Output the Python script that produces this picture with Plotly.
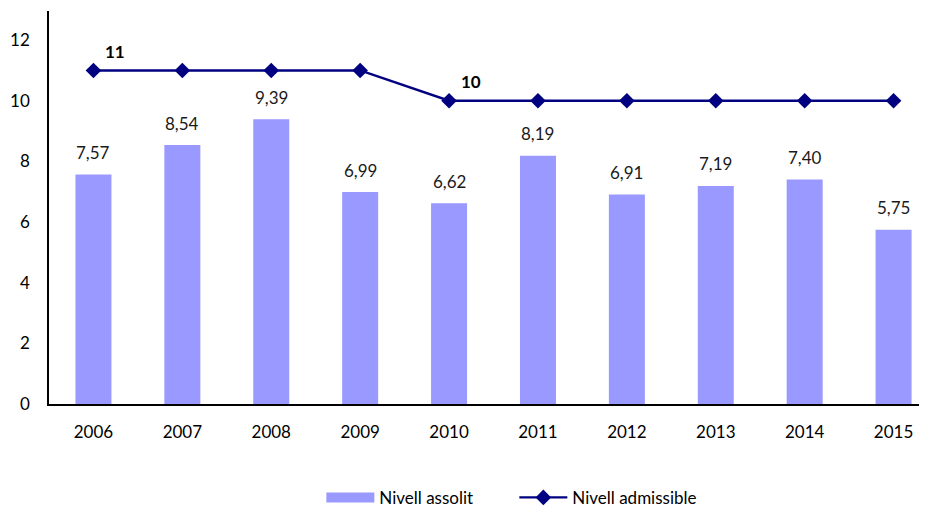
import plotly.graph_objects as go

years = ["2006", "2007", "2008", "2009", "2010", "2011", "2012", "2013", "2014", "2015"]
assolit = [7.57, 8.54, 9.39, 6.99, 6.62, 8.19, 6.91, 7.19, 7.40, 5.75]
admissible = [11, 11, 11, 11, 10, 10, 10, 10, 10, 10]
labelled_points = [0, 4]

FONT = "Lato"
BAR_COLOR = "#9999FF"
LINE_COLOR = "#000080"
bar_text = [f"{v:.2f}".replace(".", ",") for v in assolit]

fig = go.Figure()
fig.add_trace(go.Bar(
    x=years, y=assolit, name="Nivell assolit", showlegend=False,
    marker=dict(color=BAR_COLOR, line=dict(width=0)),
    width=0.405,
))
# legend-only entry giving a wide rectangular swatch for the bars
fig.add_trace(go.Scatter(
    x=[None], y=[None], name="Nivell assolit", mode="lines",
    line=dict(color=BAR_COLOR, width=10),
))
fig.add_trace(go.Scatter(
    x=years, y=admissible, name="Nivell admissible",
    mode="lines+markers",
    line=dict(color=LINE_COLOR, width=2.4),
    marker=dict(symbol="diamond", size=12, color=LINE_COLOR),
))

for i, (v, t) in enumerate(zip(assolit, bar_text)):
    fig.add_annotation(
        x=i, y=v, xref="x", yref="y", text=t, showarrow=False,
        yshift=22, font=dict(family=FONT, size=17, color="#1a1a1a"),
    )

for i in labelled_points:
    fig.add_annotation(
        x=i, y=admissible[i], xref="x", yref="y",
        text=f"<b>{admissible[i]}</b>",
        showarrow=False, xshift=22, yshift=19,
        font=dict(family=FONT, size=17, color="#000000"),
    )

fig.update_layout(
    width=919, height=499,
    margin=dict(l=41, r=0, t=3, b=103, autoexpand=False),
    plot_bgcolor="white", paper_bgcolor="white",
    font=dict(family=FONT, size=17, color="#000000"),
    showlegend=True,
    legend=dict(orientation="h", x=0.53, xanchor="center", y=-0.193, yanchor="top",
                font=dict(family=FONT, size=17, color="#000000"),
                itemwidth=48, tracegroupgap=0,
                entrywidth=130, entrywidthmode="pixels"),
)
fig.update_xaxes(
    type="category",
    range=[-0.5, 9.376], showline=True, linecolor="#000000", linewidth=1.5,
    ticks="", showgrid=False, ticklabelstandoff=12, automargin=False,
    tickfont=dict(family=FONT, size=17, color="#000000"),
)
fig.update_yaxes(
    range=[0, 12.96], tickvals=[0, 2, 4, 6, 8, 10, 12],
    showline=True, linecolor="#000000", linewidth=1.5,
    ticks="", showgrid=False, zeroline=False, ticklabelstandoff=14, automargin=False,
    tickfont=dict(family=FONT, size=17, color="#000000"),
)

fig.write_html("out.html")
